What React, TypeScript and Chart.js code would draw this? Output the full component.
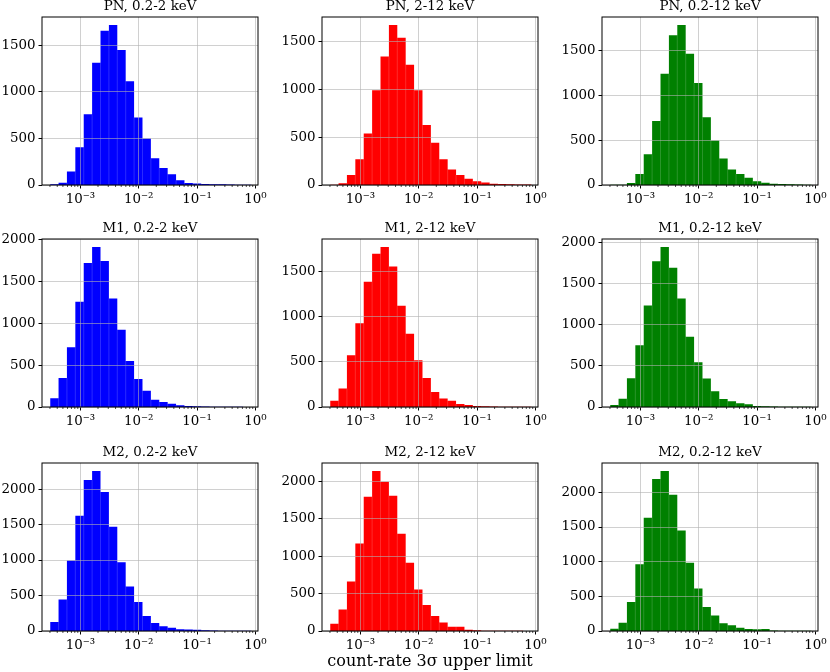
import React, { useEffect, useRef } from 'react';
import { Chart, registerables } from 'chart.js';

Chart.register(...registerables);

// histogram bin edges (count-rate, log-spaced)
const BIN_EDGES = [
  3.02e-4, 4.21e-4, 5.86e-4, 8.17e-4, 1.138e-3, 1.585e-3, 2.208e-3, 3.076e-3,
  4.285e-3, 5.97e-3, 8.318e-3, 1.159e-2, 1.614e-2, 2.249e-2, 3.133e-2, 4.365e-2,
  6.081e-2, 8.472e-2, 0.118, 0.1644, 0.2291, 0.3192, 0.4446, 0.6194, 0.863,
];

// counts per bin
const PN_SOFT = [7, 25, 144, 406, 758, 1310, 1655, 1716, 1447, 1113, 725, 499, 287, 183, 115, 50, 22, 16, 12, 9, 7, 5, 4, 3];
const PN_HARD = [3, 17, 105, 270, 539, 990, 1343, 1672, 1540, 1256, 990, 627, 441, 270, 161, 105, 66, 38, 25, 14, 10, 7, 6, 4];
const PN_FULL = [2, 4, 22, 123, 342, 711, 1236, 1664, 1779, 1459, 1135, 752, 495, 294, 171, 123, 82, 41, 26, 15, 11, 7, 6, 4];
const M1_SOFT = [104, 348, 716, 1260, 1724, 1916, 1748, 1300, 924, 552, 336, 196, 88, 60, 40, 20, 12, 8, 5, 4, 3, 2, 2, 1];
const M1_HARD = [70, 204, 574, 929, 1389, 1700, 1774, 1559, 1122, 811, 518, 322, 167, 93, 70, 33, 22, 11, 7, 5, 4, 3, 2, 2];
const M1_FULL = [24, 102, 350, 753, 1238, 1775, 1950, 1698, 1323, 855, 545, 346, 191, 98, 69, 45, 33, 12, 8, 5, 4, 3, 2, 2];
const M2_SOFT = [127, 442, 993, 1624, 2127, 2254, 1958, 1468, 969, 626, 409, 212, 113, 66, 47, 24, 22, 19, 9, 6, 4, 3, 2, 2];
const M2_HARD = [98, 286, 661, 1170, 1795, 2138, 1996, 1808, 1299, 911, 553, 348, 201, 112, 58, 58, 18, 9, 5, 4, 3, 2, 2, 1];
const M2_FULL = [34, 120, 419, 964, 1634, 2193, 2308, 1966, 1451, 983, 612, 347, 222, 111, 82, 48, 29, 24, 29, 8, 5, 3, 2, 2];

const CAMERAS = ['PN', 'M1', 'M2'];
const BANDS = ['0.2-2 keV', '2-12 keV', '0.2-12 keV'];
const BAND_COLORS = ['#0000ff', '#ff0000', '#008000'];
const COUNTS = [
  [PN_SOFT, PN_HARD, PN_FULL],
  [M1_SOFT, M1_HARD, M1_FULL],
  [M2_SOFT, M2_HARD, M2_FULL],
];

const X_TICKS = [1e-3, 1e-2, 1e-1, 1];
const X_TICK_LABELS = ['10⁻³', '10⁻²', '10⁻¹', '10⁰'];
const MINOR_DECADES = [1e-4, 1e-3, 1e-2, 1e-1];
const MINOR_STEPS = [2, 3, 4, 5, 6, 7, 8, 9];
const Y_TICKS = [0, 500, 1000, 1500, 2000];
const X_MIN = 2.19e-4;
const X_MAX = 1.11;
const X_LABEL = 'count-rate 3σ upper limit';

// layout
const PLOT_W = 216;
const PLOT_H = 168;
const Y_AXIS_W = 42;
const TITLE_H = 18;
const X_AXIS_H = 25;
const PAD_RIGHT = 12;
const COL_LEFT = [0, 280, 560];
const ROW_TOP = [-1, 221, 445];
const FONT = '"DejaVu Serif", serif';
const GRID = 'rgba(176,176,176,0.6)';

Chart.defaults.font.family = FONT;
Chart.defaults.color = '#000';

// spines, minor x ticks and the faint seams between adjacent bars
const makeFramePlugin = (counts: number[]) => ({
  id: 'frame',
  afterDatasetsDraw(chart: any) {
    const { ctx, scales } = chart;
    const xs = scales.x;
    const ys = scales.y;
    ctx.save();
    ctx.strokeStyle = 'rgba(255,255,255,0.28)';
    ctx.lineWidth = 0.6;
    for (let i = 1; i < counts.length; i++) {
      const h = Math.min(counts[i - 1], counts[i]);
      if (h <= 0) continue;
      const px = xs.getPixelForValue(BIN_EDGES[i]);
      ctx.beginPath();
      ctx.moveTo(px, ys.getPixelForValue(0));
      ctx.lineTo(px, ys.getPixelForValue(h));
      ctx.stroke();
    }
    ctx.restore();
  },
  afterDraw(chart: any) {
    const { ctx, chartArea: a, scales } = chart;
    const xs = scales.x;
    ctx.save();
    ctx.strokeStyle = '#000';
    ctx.lineWidth = 0.7;
    MINOR_DECADES.forEach((d) => {
      MINOR_STEPS.forEach((m) => {
        const v = d * m;
        if (v < xs.min || v > xs.max) return;
        const px = xs.getPixelForValue(v);
        ctx.beginPath();
        ctx.moveTo(px, a.bottom);
        ctx.lineTo(px, a.bottom + 2);
        ctx.stroke();
      });
    });
    ctx.lineWidth = 1;
    ctx.strokeRect(a.left, a.top, a.right - a.left, a.bottom - a.top);
    ctx.restore();
  },
});

// step outline of a histogram from bin edges + counts
const stepPoints = (counts: number[]) => {
  const pts: { x: number; y: number }[] = [{ x: BIN_EDGES[0], y: 0 }];
  counts.forEach((c, i) => {
    pts.push({ x: BIN_EDGES[i], y: c });
    pts.push({ x: BIN_EDGES[i + 1], y: c });
  });
  pts.push({ x: BIN_EDGES[counts.length], y: 0 });
  return pts;
};

interface PanelProps {
  title: string;
  counts: number[];
  color: string;
  left: number;
  top: number;
  xLabel?: string;
}

const Panel: React.FC<PanelProps> = ({ title, counts, color, left, top, xLabel }) => {
  const ref = useRef<HTMLCanvasElement>(null);
  const xAxisH = xLabel ? X_AXIS_H + 16 : X_AXIS_H;
  const width = Y_AXIS_W + PLOT_W + PAD_RIGHT;
  const height = TITLE_H + PLOT_H + xAxisH;

  useEffect(() => {
    if (!ref.current) return;
    const ctx = ref.current.getContext('2d');
    if (!ctx) return;
    const yMax = Math.max(...counts) * 1.05;
    const tickFont = { size: 13.4, family: FONT };

    const chart = new Chart(ctx, {
      type: 'line',
      data: {
        datasets: [
          {
            data: stepPoints(counts),
            backgroundColor: color,
            borderColor: 'transparent',
            borderWidth: 0,
            fill: 'origin',
            pointRadius: 0,
            tension: 0,
          },
        ],
      },
      options: {
        responsive: false,
        animation: false,
        events: [],
        layout: { padding: { left: 0, right: PAD_RIGHT, top: 0, bottom: 0 } },
        plugins: {
          legend: { display: false },
          tooltip: { enabled: false },
          title: {
            display: true,
            fullSize: false,
            text: title,
            color: '#000',
            font: { size: 13.4, weight: 'normal', lineHeight: '16px', family: FONT },
            padding: { top: 0, bottom: 2 },
          },
        },
        scales: {
          x: {
            type: 'logarithmic',
            min: X_MIN,
            max: X_MAX,
            bounds: 'data',
            afterBuildTicks: (s: any) => {
              s.ticks = X_TICKS.map((v) => ({ value: v, major: true }));
            },
            afterFit: (s: any) => {
              s.height = xAxisH;
            },
            ticks: {
              autoSkip: false,
              maxRotation: 0,
              padding: 3,
              color: '#000',
              font: tickFont,
              callback: (v: any) => {
                const i = X_TICKS.indexOf(Number(v));
                return i >= 0 ? X_TICK_LABELS[i] : '';
              },
            },
            grid: { color: GRID, lineWidth: 1, z: 1, tickColor: '#000', tickLength: 3.5, tickWidth: 1 },
            border: { display: false },
            title: {
              display: !!xLabel,
              text: xLabel || '',
              color: '#000',
              font: { size: 16, family: FONT },
              padding: { top: 0, bottom: 1 },
            },
          },
          y: {
            type: 'linear',
            min: 0,
            max: yMax,
            afterBuildTicks: (s: any) => {
              s.ticks = Y_TICKS.filter((v) => v <= yMax).map((v) => ({ value: v }));
            },
            afterFit: (s: any) => {
              s.width = Y_AXIS_W;
            },
            ticks: {
              padding: 3,
              color: '#000',
              font: tickFont,
              callback: (v: any) => String(v),
            },
            grid: { color: GRID, lineWidth: 1, z: 1, tickColor: '#000', tickLength: 3.5, tickWidth: 1 },
            border: { display: false },
          },
        },
      } as any,
      plugins: [makeFramePlugin(counts)],
    });

    return () => {
      chart.destroy();
    };
  }, [title, counts, color, xLabel]);

  return (
    <canvas
      ref={ref}
      width={width}
      height={height}
      style={{ position: 'absolute', left, top, width, height }}
    />
  );
};

const App: React.FC = () => {
  return (
    <div
      style={{
        position: 'absolute',
        left: 0,
        top: 0,
        width: 830,
        height: 672,
        overflow: 'hidden',
        background: '#fff',
      }}
    >
      {CAMERAS.map((cam, r) =>
        BANDS.map((band, c) => (
          <Panel
            key={cam + band}
            title={`${cam}, ${band}`}
            counts={COUNTS[r][c]}
            color={BAND_COLORS[c]}
            left={COL_LEFT[c]}
            top={ROW_TOP[r]}
            xLabel={r === 2 && c === 1 ? X_LABEL : undefined}
          />
        ))
      )}
    </div>
  );
};

export default App;
